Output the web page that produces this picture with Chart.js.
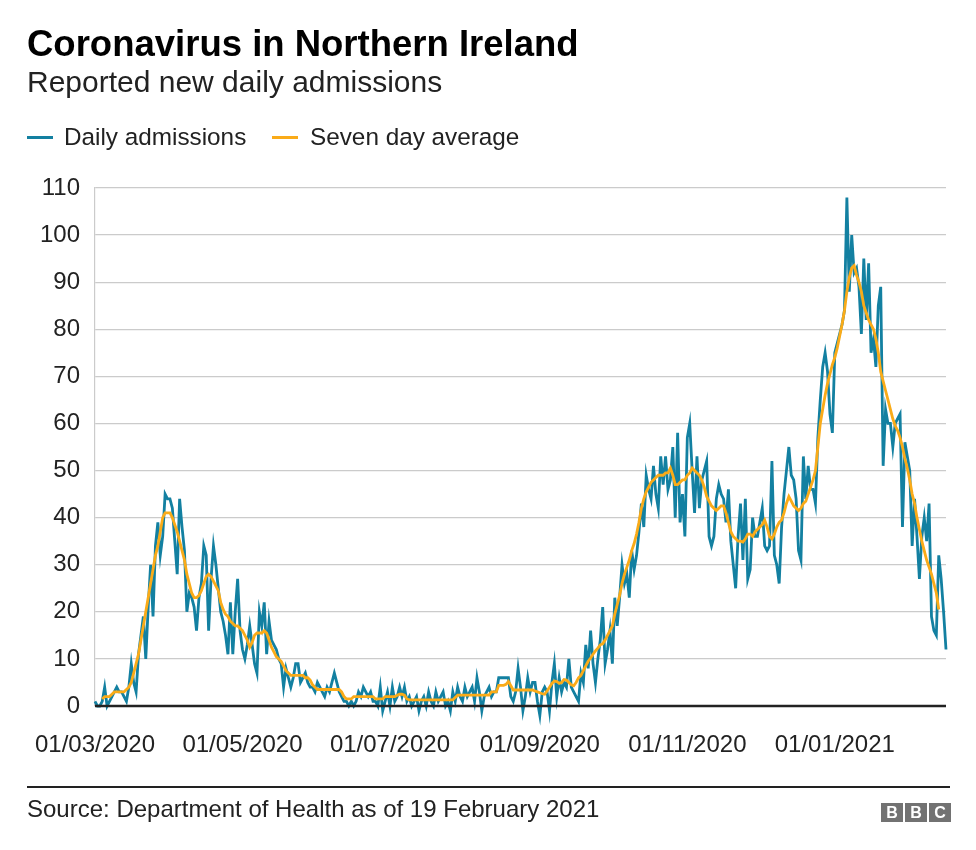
<!DOCTYPE html>
<html>
<head>
<meta charset="utf-8">
<script src="https://cdn.jsdelivr.net/npm/chart.js@4"></script>
<style>
  html, body { margin:0; padding:0; background:#fff; }
  body { width:976px; height:850px; position:relative; overflow:hidden; font-family:"Liberation Sans", Arial, sans-serif; color:#222; }
  #c { position:absolute; left:0; top:0; }
  .t { position:absolute; white-space:nowrap; line-height:1; }
  #title { left:27px; top:26px; font-size:36.5px; font-weight:bold; color:#000; }
  #sub { left:27px; top:67px; font-size:30px; }
  .leg { top:125px; font-size:24.3px; }
  .sw { position:absolute; height:3px; width:26px; top:136px; }
  #rule { position:absolute; left:27px; width:923px; top:786px; height:2px; background:#222; }
  #src { left:27px; top:797px; font-size:24px; }
  .bbc { position:absolute; top:803px; width:22px; height:19px; background:#727272; color:#fff; font:bold 16px "Liberation Sans", Arial, sans-serif; text-align:center; line-height:19px; }
</style>
</head>
<body>
<canvas id="c" width="976" height="850"></canvas>
<div class="t" id="title">Coronavirus in Northern Ireland</div>
<div class="t" id="sub">Reported new daily admissions</div>
<div class="sw" style="left:27px;background:#1380A1"></div>
<div class="t leg" style="left:64px">Daily admissions</div>
<div class="sw" style="left:272px;background:#FAAB18"></div>
<div class="t leg" style="left:310px">Seven day average</div>
<div id="rule"></div>
<div class="t" id="src">Source: Department of Health as of 19 February 2021</div>
<div class="bbc" style="left:881px">B</div>
<div class="bbc" style="left:905px">B</div>
<div class="bbc" style="left:929px">C</div>
<script>
// Daily admissions from 1 March 2020 (one value per day)
const dailyAdmissions = [
  1,0,0,1,4,0,1,2,3,4,
  3,3,2,1,4,9,5,3,11,15,
  19,10,21,30,19,34,39,32,36,45,
  44,44,42,35,28,44,38,33,20,24,
  23,21,16,23,26,34,32,16,27,34,
  30,25,20,18,15,11,22,11,20,27,
  16,12,10,13,17,13,9,7,20,17,
  22,11,18,14,13,12,10,9,4,8,
  6,4,6,9,9,5,6,7,5,4,
  4,3,5,4,3,2,4,3,5,7,
  5,3,2,1,1,0,1,0,1,3,
  2,4,3,2,3,1,1,0,4,-1,
  1,3,0,4,1,2,4,2,4,1,
  2,0,1,2,-1,1,2,0,3,1,
  0,3,1,2,3,0,1,-1,3,1,
  4,2,1,4,2,3,4,1,6,3,
  -1,2,3,4,2,3,3,6,6,6,
  6,6,2,1,3,8,4,-1,2,6,
  3,5,5,1,-2,3,4,3,-1,5,
  9,2,6,3,5,4,10,4,3,2,
  1,7,5,13,8,16,9,5,10,14,
  21,9,12,16,9,23,17,23,30,26,
  28,23,33,29,32,37,43,38,49,46,
  44,51,45,42,53,47,53,46,48,55,
  40,58,39,45,36,57,60,50,41,53,
  42,48,50,52,36,34,36,44,47,45,
  44,39,46,35,30,25,36,43,31,44,
  27,29,40,36,36,39,42,34,33,34,
  52,32,30,26,38,45,50,55,49,48,
  44,33,31,53,44,51,46,46,43,57,
  65,72,75,71,62,58,75,77,79,81,
  84,108,88,100,92,93,89,79,95,82,
  94,75,78,72,85,89,51,63,60,60,
  55,60,61,62,38,56,53,50,34,44,
  36,27,36,40,35,43,19,16,15,32,
  27,20,12
];

// Seven day average (centred)
const sevenDayAverage = [
  null,null,null,1.5,2,2,2,2.5,3,3,
  3,3,3,3.5,4,5,7,9,11,14,
  17,20,23,26,29,32,34,37,40,41,
  41,41,40,38.5,37,35,33,31,28,26,
  24,23,23,23.5,24.5,26,27.5,28,27.5,26.5,
  25.5,24.5,22,20.5,19.5,19,18,17.5,17,17,
  16.5,16,15,14,12.5,13.5,15,15.5,15.5,15.5,
  16,15.5,14,12.5,11.5,10.5,10,9.5,8.5,7.5,
  7,6.5,6.5,6.5,6.5,6.5,6.5,6,6,5.5,
  4.5,4,3.5,3.5,3.5,3.5,3.5,3.5,3.5,3.5,
  3.5,3.5,3,2,1.5,1.5,1.5,2,2,2,
  2,2,2,2,2,2,1.5,1.5,1.5,1.5,
  2,2,2,2,2,2.3,2.5,2.5,2.3,1.5,
  1.3,1.3,1.3,1.3,1.3,1.3,1.3,1.3,1.3,1.3,
  1.3,1.3,1.3,1.3,1.3,1.3,1.3,1.3,1.3,1.8,
  2.3,2.3,2.3,2.3,2.3,2.3,2.3,2.3,2.3,2.3,
  2.3,2.3,2.3,2.3,3,3,3,4.4,4.4,4.4,
  4.6,5.2,4.3,3.4,3.4,3.4,3.4,3.4,3.4,3.4,
  3.4,3.4,3.2,3,2.8,2.6,2.5,3.2,4,4.8,
  5.3,5.2,4.8,5,5.6,5.5,5,4.5,4.3,5,
  6,6.5,7.5,8.5,9.5,10.2,11,11.7,12.3,13,
  13.2,14,15,16,17,19.5,21.5,23.5,26,28,
  29.5,31,33,34.5,36.5,39,42,44,45.5,46.5,
  47.5,48,48.5,49,49,49,49.5,49.5,50.5,49,
  47,47,47.5,48,48,49,49.5,50.5,50,49.5,
  49,48,46.5,44.5,43.5,42.5,42,41.5,42,42.5,
  42.5,41,39,37,36,35.5,35,35,34.8,35.5,
  36.5,36.5,36,37,37.5,38,38.5,39.5,38,36,
  35.5,36.5,38,39,39.5,41,43,44.5,43.5,42.5,
  42,41.5,42,43,43.5,45,46.5,48,50,55,
  60,63,66,68.5,70.5,72.5,74,76,78.5,81,
  84,88,91,93,93.5,91.5,90,88,85,83.5,
  82,81,80,78,75,71,69,67,65,63,
  61,59.5,58.5,57,55,52.5,50.5,48,45,43,
  40,37.5,35,33,31,29.5,28,26,24,20.5,
  null,null,null
];

const startDate = [2020, 2, 1]; // 1 March 2020
const tickLabels = ['01/03/2020','01/05/2020','01/07/2020','01/09/2020','01/11/2020','01/01/2021'];
const yMin = 0, yMax = 110, yStep = 10;

const pad = n => String(n).padStart(2, '0');
const dates = dailyAdmissions.map((_, i) => {
  const d = new Date(startDate[0], startDate[1], startDate[2] + i);
  return pad(d.getDate()) + '/' + pad(d.getMonth() + 1) + '/' + d.getFullYear();
});

const FONT = '"Liberation Sans", Arial, sans-serif';

const baseline = {
  id: 'baseline',
  afterDatasetsDraw(chart) {
    const {ctx, chartArea, scales} = chart;
    const y = scales.y.getPixelForValue(0);
    ctx.save();
    ctx.strokeStyle = '#222222';
    ctx.lineWidth = 2.5;
    ctx.beginPath();
    ctx.moveTo(chartArea.left, y);
    ctx.lineTo(chartArea.right, y);
    ctx.stroke();
    ctx.restore();
  }
};

new Chart(document.getElementById('c'), {
  type: 'line',
  data: {
    labels: dates,
    datasets: [
      {
        label: 'Seven day average',
        data: sevenDayAverage,
        borderColor: '#FAAB18',
        borderWidth: 2.8,
        pointRadius: 0,
        tension: 0,
        order: 0,
        clip: false
      },
      {
        label: 'Daily admissions',
        data: dailyAdmissions,
        borderColor: '#1380A1',
        borderWidth: 2.8,
        pointRadius: 0,
        tension: 0,
        order: 1,
        clip: false
      }
    ]
  },
  options: {
    responsive: false,
    animation: false,
    devicePixelRatio: 1,
    layout: { padding: { top: 188, right: 30, bottom: 94, left: 0 } },
    plugins: { legend: { display: false }, tooltip: { enabled: false }, title: { display: false } },
    scales: {
      x: {
        type: 'category',
        grid: { display: false, drawTicks: false },
        border: { display: false },
        ticks: {
          autoSkip: false,
          maxRotation: 0,
          minRotation: 0,
          padding: 25,
          color: '#222222',
          font: { family: FONT, size: 24 },
          callback: (v, i) => tickLabels.includes(dates[i]) ? dates[i] : null
        },
        afterFit: s => { s.height = 50; }
      },
      y: {
        min: yMin,
        max: yMax,
        ticks: {
          stepSize: yStep,
          padding: 15,
          color: '#222222',
          font: { family: FONT, size: 24 }
        },
        grid: { color: '#cbcbcb', lineWidth: 1.2, drawTicks: false },
        border: { display: true, color: '#cbcbcb', width: 1.2 },
        afterFit: s => { s.width = 95; }
      }
    }
  },
  plugins: [baseline]
});
</script>
</body>
</html>
